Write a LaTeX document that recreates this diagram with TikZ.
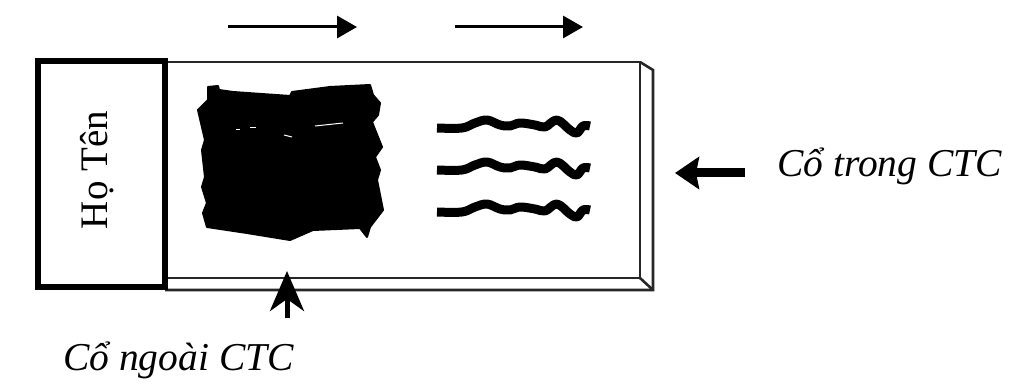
\documentclass[tikz,border=0pt]{standalone}
\usepackage{fontspec}
\setmainfont{Liberation Serif}
\usetikzlibrary{arrows.meta}
\begin{document}
\begin{tikzpicture}[x=1pt,y=-1pt,
  stripline/.style={draw=black!85,line width=2.6pt,line join=miter},
  namebox/.style={draw=black,line width=6pt,fill=white,minimum width=127pt,minimum height=226pt,inner sep=0pt},
  toparrow/.style={line width=3pt,-{Triangle[length=20pt,width=22pt]}},
  sidearrow/.style={line width=9pt,-{Stealth[length=24pt,width=32pt,inset=3pt]}},
  uparrow/.style={line width=5pt,-{Stealth[length=40pt,width=34pt,inset=12pt]}},
  label/.style={font=\fontsize{39.5}{41}\selectfont\itshape,inner sep=0pt},
  wave/.style={line width=9pt,line cap=butt,line join=round},
  blob/.style={fill=black,draw=black,line width=2pt,line join=round}]
\useasboundingbox (0,0) rectangle (1033,390);
% strip (front face + depth)
\draw[stripline] (165,62) -- (640,62) -- (640,278) -- (165,278);
\draw[stripline] (640,62) -- (653,70) -- (653,290) -- (165,290);
\draw[stripline] (640,278) -- (653,290);
% name box
\draw[line width=6pt] (40,287) -- (165,287);
\node[namebox] (name) at (101.5,174) {};
\node[rotate=90,font=\fontsize{39}{40}\selectfont,inner sep=0pt] (nametext) at (97,170) {Họ Tên};
% black blob
\draw[blob] (208,87) -- (218,86) -- (219,90) -- (233,92) -- (290,96) -- (292,92) -- (330,87) -- (370,85)
  -- (373,95) -- (380,103) -- (378,115) -- (372,122) -- (382,147) -- (375,157) -- (380,170)
  -- (377,180) -- (383,210) -- (370,227) -- (367,237) -- (360,228) -- (313,230)
  -- (290,240) -- (247,233) -- (207,227) -- (203,213) -- (207,203) -- (202,187)
  -- (205,177) -- (202,150) -- (205,140) -- (198,110) -- (208,100) -- cycle;
\draw[white,line width=1pt] (236,130) -- (240,130);
\draw[white,line width=1pt] (250,128) -- (256,128);
\draw[white,line width=1pt] (284,135) -- (292,137);
\draw[white,line width=1pt] (315,126) -- (343,123);
% wavy lines
\foreach \yy in {128,170,212}{
  \draw[wave,shift={(0,\yy)}] plot[smooth,tension=0.6] coordinates
    {(437,0) (462,0) (475,-5) (487,-8) (500,-3) (510,-2) (520,-5) (535,-3)
     (545,-1) (557,-8) (570,2) (577,5) (583,-2) (590,-2)};
}
% top arrows
\coordinate (a1s) at (228,27); \coordinate (a1e) at (357,27);
\coordinate (a2s) at (455,27); \coordinate (a2e) at (583,27);
\draw[toparrow] (a1s) -- (a1e);
\draw[toparrow] (a2s) -- (a2e);
% labels
\node[label,anchor=base west] (trong) at (777,177) {Cổ trong CTC};
\node[label,anchor=base west] (ngoai) at (63,370) {Cổ ngoài CTC};
% side arrows
\coordinate (tin) at (675,173);
\draw[sidearrow] (trong.west |- tin) ++(-32,0) coordinate (tstart) -- (tin);
\coordinate (utip) at (287,271);
\coordinate (ubase) at (287,318);
\draw[uparrow] (ubase) -- (utip);
\end{tikzpicture}
\end{document}
